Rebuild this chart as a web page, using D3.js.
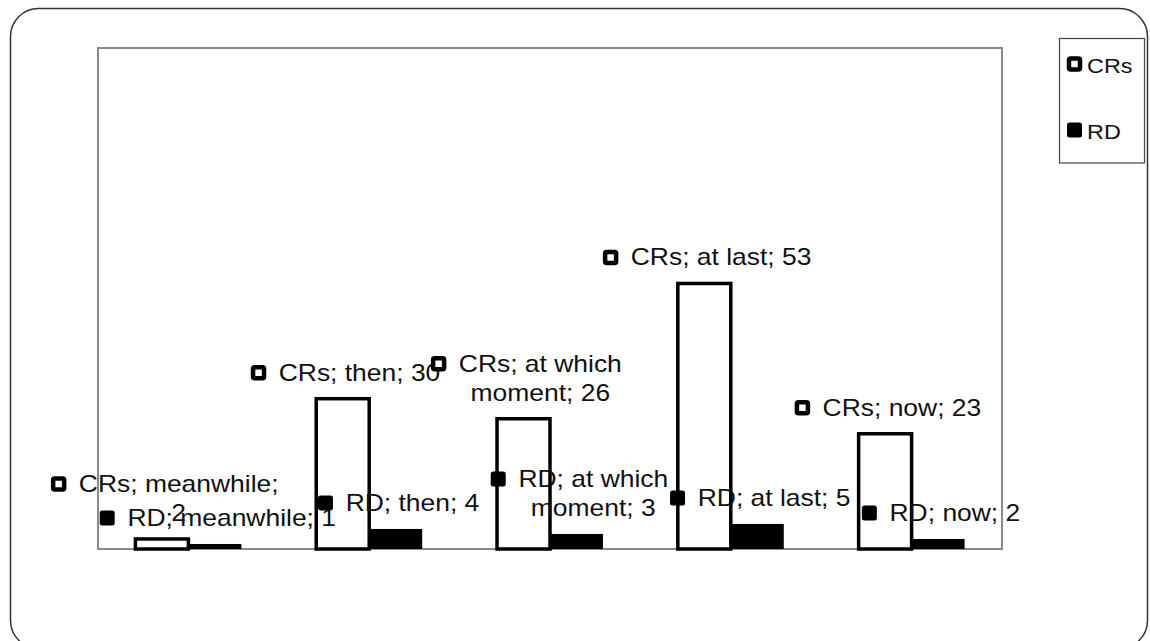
<!DOCTYPE html>
<html lang="en">
<head>
<meta charset="UTF-8">
<script src="https://cdnjs.cloudflare.com/ajax/libs/d3/7.8.5/d3.min.js"></script>
<style>
  body { margin: 0; background: #fff; }
  text { font-family: "Liberation Sans", Arial, sans-serif; fill: #111; }
</style>
<title>CRs vs RD</title>
</head>
<body>
<div id="chart"></div>
<script>
const categories = ['meanwhile', 'then', 'at which moment', 'at last', 'now'];
const seriesNames = ['CRs', 'RD'];
const crsValues = [2, 30, 26, 53, 23];
const rdValues = [1, 4, 3, 5, 2];

const width = 1150, height = 641;
const plot = { left: 98, top: 48, right: 1002, bottom: 549 };
const labelFont = 23, labelSx = 1.15, lineGap = 29, wrapAt = 215;

const rows = categories.map((c, i) => ({ cat: c, CRs: crsValues[i], RD: rdValues[i] }));

const svg = d3.select('#chart').append('svg')
    .attr('width', width)
    .attr('height', height);

// outer rounded frame
svg.append('rect')
    .attr('x', 10.5).attr('y', 8.5)
    .attr('width', 1137).attr('height', 640)
    .attr('rx', 28)
    .attr('fill', '#fff')
    .attr('stroke', '#333')
    .attr('stroke-width', 1.5);

const x0 = d3.scaleBand().domain(categories).range([plot.left, plot.right])
    .paddingInner(0.414).paddingOuter(0.207);
const x1 = d3.scaleBand().domain(seriesNames).range([0, x0.bandwidth()]);
const y = d3.scaleLinear().domain([0, 100]).range([plot.bottom, plot.top]);

// plot area
svg.append('rect')
    .attr('x', plot.left).attr('y', plot.top)
    .attr('width', plot.right - plot.left).attr('height', plot.bottom - plot.top)
    .attr('fill', 'none')
    .attr('stroke', '#8a8a8a')
    .attr('stroke-width', 2);

//Bars
const groups = svg.selectAll('g.grp')
    .data(rows)
    .enter()
    .append('g')
    .attr('class', 'grp')
    .attr('transform', d => `translate(${x0(d.cat)},0)`);

groups.append('rect')
    .attr('x', x1('RD'))
    .attr('width', x1.bandwidth())
    .attr('y', d => y(d.RD))
    .attr('height', d => y(0) - y(d.RD))
    .attr('fill', '#000');

groups.append('rect')
    .attr('x', x1('CRs'))
    .attr('width', x1.bandwidth())
    .attr('y', d => y(d.CRs))
    .attr('height', d => y(0) - y(d.CRs))
    .attr('fill', '#fff')
    .attr('stroke', '#000')
    .attr('stroke-width', 3.5);

function marker(g, name, x, cy, size) {
    if (name === 'CRs') {
        g.append('rect')
            .attr('x', x + 2).attr('y', cy - size / 2 + 2)
            .attr('width', size - 4).attr('height', size - 4)
            .attr('rx', 1.5)
            .attr('fill', '#fff').attr('stroke', '#000').attr('stroke-width', 4.5);
    } else {
        g.append('rect')
            .attr('x', x).attr('y', cy - size / 2)
            .attr('width', size).attr('height', size)
            .attr('rx', 2.5)
            .attr('fill', '#000');
    }
}

//Labels
const labelLayer = svg.append('g');
rows.forEach(d => {
    seriesNames.forEach(s => {
        const v = d[s];
        const g = labelLayer.append('g');
        // wrap words greedily
        const words = `${s}; ${d.cat}; ${v}`.split(' ');
        const probe = g.append('text').style('font-size', labelFont + 'px');
        const lines = [];
        let cur = '';
        words.forEach(w => {
            const t = cur ? cur + ' ' + w : w;
            probe.text(t);
            if (cur && probe.node().getComputedTextLength() * labelSx > wrapAt) {
                lines.push(cur);
                cur = w;
            } else cur = t;
        });
        lines.push(cur);
        let maxW = 0;
        lines.forEach(l => {
            probe.text(l);
            maxW = Math.max(maxW, probe.node().getComputedTextLength() * labelSx);
        });
        probe.remove();

        const cx = x0(d.cat) + x1(s) + x1.bandwidth() / 2 + 3;
        const keyW = 15, keyGap = 12.6;
        const blockW = keyW + keyGap + maxW;
        const left = cx - blockW / 2;
        const textCx = left + keyW + keyGap + maxW / 2;
        const lastBase = y(v) - 18;
        const firstBase = lastBase - (lines.length - 1) * lineGap;

        marker(g, s, left, firstBase - 8, keyW);
        lines.forEach((l, i) => {
            g.append('text')
                .attr('transform', `translate(${textCx},${firstBase + i * lineGap}) scale(${labelSx},1)`)
                .attr('text-anchor', 'middle')
                .style('font-size', labelFont + 'px')
                .text(l);
        });
    });
});

//Legend
const legend = svg.append('g').attr('id', 'legend');
legend.append('rect')
    .attr('x', 1059.5).attr('y', 38.5)
    .attr('width', 85).attr('height', 124.5)
    .attr('fill', '#fff')
    .attr('stroke', '#444')
    .attr('stroke-width', 1.2);
seriesNames.forEach((s, i) => {
    const cy = 64 + i * 66;
    marker(legend, s, 1067, cy, 15);
    legend.append('text')
        .attr('transform', `translate(1087,${cy + 8.5}) scale(1.2,1)`)
        .style('font-size', '19.5px')
        .text(s);
});
</script>
</body>
</html>
